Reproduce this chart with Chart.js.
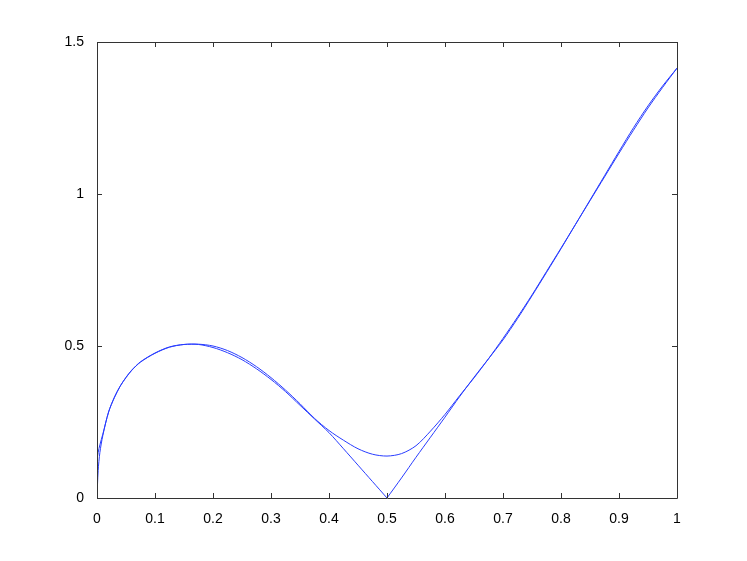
<!DOCTYPE html>
<html>
<head>
<meta charset="utf-8">
<script src="https://cdn.jsdelivr.net/npm/chart.js@4"></script>
<style>
  html, body { margin: 0; padding: 0; background: #fff; }
  canvas { display: block; }
</style>
</head>
<body>
<canvas id="plot" width="747" height="561"></canvas>
<script>
// x positions shared by both curves
const xs = [0, 0.002, 0.005, 0.01, 0.02, 0.03, 0.04, 0.05, 0.06, 0.075, 0.1, 0.125, 0.15, 0.175,
  0.2, 0.225, 0.25, 0.275, 0.3, 0.325, 0.35, 0.375, 0.4, 0.425, 0.45, 0.475, 0.5,
  0.525, 0.55, 0.575, 0.6, 0.625, 0.65, 0.675, 0.7, 0.725, 0.75, 0.775, 0.8,
  0.825, 0.85, 0.875, 0.9, 0.925, 0.95, 0.975, 1];

// curve with the corner at 0.5
const exactY = [0, 0.09, 0.15, 0.205, 0.283, 0.33, 0.368, 0.397, 0.421, 0.448, 0.477, 0.497, 0.505, 0.505,
  0.495, 0.478, 0.455, 0.425, 0.39, 0.35, 0.305, 0.26, 0.215, 0.162, 0.108, 0.054, 0,
  0.066, 0.134, 0.2, 0.266, 0.333, 0.397, 0.458, 0.52, 0.59, 0.665, 0.742, 0.82,
  0.9, 0.98, 1.06, 1.14, 1.218, 1.29, 1.355, 1.414];

// smooth curve
const smoothY = [0.125, 0.15, 0.175, 0.21, 0.283, 0.332, 0.368, 0.396, 0.42, 0.447, 0.476, 0.496, 0.505, 0.506,
  0.5, 0.485, 0.462, 0.432, 0.396, 0.355, 0.31, 0.262, 0.222, 0.19, 0.162, 0.144, 0.138,
  0.146, 0.172, 0.22, 0.275, 0.336, 0.395, 0.458, 0.525, 0.595, 0.668, 0.745, 0.822,
  0.9, 0.978, 1.056, 1.134, 1.21, 1.283, 1.35, 1.414];

const xTicks = [0, 0.1, 0.2, 0.3, 0.4, 0.5, 0.6, 0.7, 0.8, 0.9, 1];
const xLabels = ['0', '0.1', '0.2', '0.3', '0.4', '0.5', '0.6', '0.7', '0.8', '0.9', '1'];
const yTicks = [0, 0.5, 1, 1.5];
const yLabels = ['0', '0.5', '1', '1.5'];

const lineColor = 'rgb(40,60,255)';
const axisColor = '#333';

const toPoints = (ys) => xs.map((x, i) => ({ x: x, y: ys[i] }));
// the corner curve is split at 0.5 so the smoothing keeps the corner sharp
const corner = xs.indexOf(0.5);
const exactPts = toPoints(exactY);

const line = (pts, tension) => ({
  data: pts, showLine: true, borderColor: lineColor, borderWidth: 1,
  pointRadius: 0, tension: tension, fill: false
});

// MATLAB style box with ticks pointing inward
const boxTicks = {
  id: 'boxTicks',
  afterDraw(chart) {
    const { ctx, chartArea: a, scales } = chart;
    ctx.save();
    ctx.strokeStyle = axisColor;
    ctx.lineWidth = 1;
    ctx.beginPath();
    ctx.rect(a.left + 0.5, a.top + 0.5, a.right - a.left, a.bottom - a.top);
    xTicks.forEach(v => {
      const px = Math.round(scales.x.getPixelForValue(v)) + 0.5;
      ctx.moveTo(px, a.bottom); ctx.lineTo(px, a.bottom - 5);
      ctx.moveTo(px, a.top); ctx.lineTo(px, a.top + 5);
    });
    yTicks.forEach(v => {
      const py = Math.round(scales.y.getPixelForValue(v)) + 0.5;
      ctx.moveTo(a.left, py); ctx.lineTo(a.left + 5, py);
      ctx.moveTo(a.right, py); ctx.lineTo(a.right - 5, py);
    });
    ctx.stroke();
    ctx.restore();
  }
};

const font = { family: 'Liberation Sans, Helvetica, Arial, sans-serif', size: 14 };

new Chart(document.getElementById('plot'), {
  type: 'scatter',
  data: {
    datasets: [
      line(exactPts.slice(0, corner + 1), 0.3),
      line(exactPts.slice(corner), 0.3),
      line(toPoints(smoothY), 0.3)
    ]
  },
  options: {
    responsive: false,
    animation: false,
    events: [],
    layout: { padding: { left: 0, top: 42, right: 70, bottom: 0 } },
    plugins: { legend: { display: false }, tooltip: { enabled: false } },
    scales: {
      x: {
        type: 'linear', min: 0, max: 1,
        afterBuildTicks: s => { s.ticks = xTicks.map(v => ({ value: v })); },
        afterFit: s => { s.height = 63; },
        grid: { display: false },
        border: { display: false },
        ticks: { color: '#000', font: font, padding: 5, maxRotation: 0,
          callback: (v, i) => xLabels[i] }
      },
      y: {
        type: 'linear', min: 0, max: 1.5,
        afterBuildTicks: s => { s.ticks = yTicks.map(v => ({ value: v })); },
        afterFit: s => { s.width = 97; },
        grid: { display: false },
        border: { display: false },
        ticks: { color: '#000', font: font, padding: 5,
          callback: (v, i) => yLabels[i] }
      }
    }
  },
  plugins: [boxTicks]
});
</script>
</body>
</html>
